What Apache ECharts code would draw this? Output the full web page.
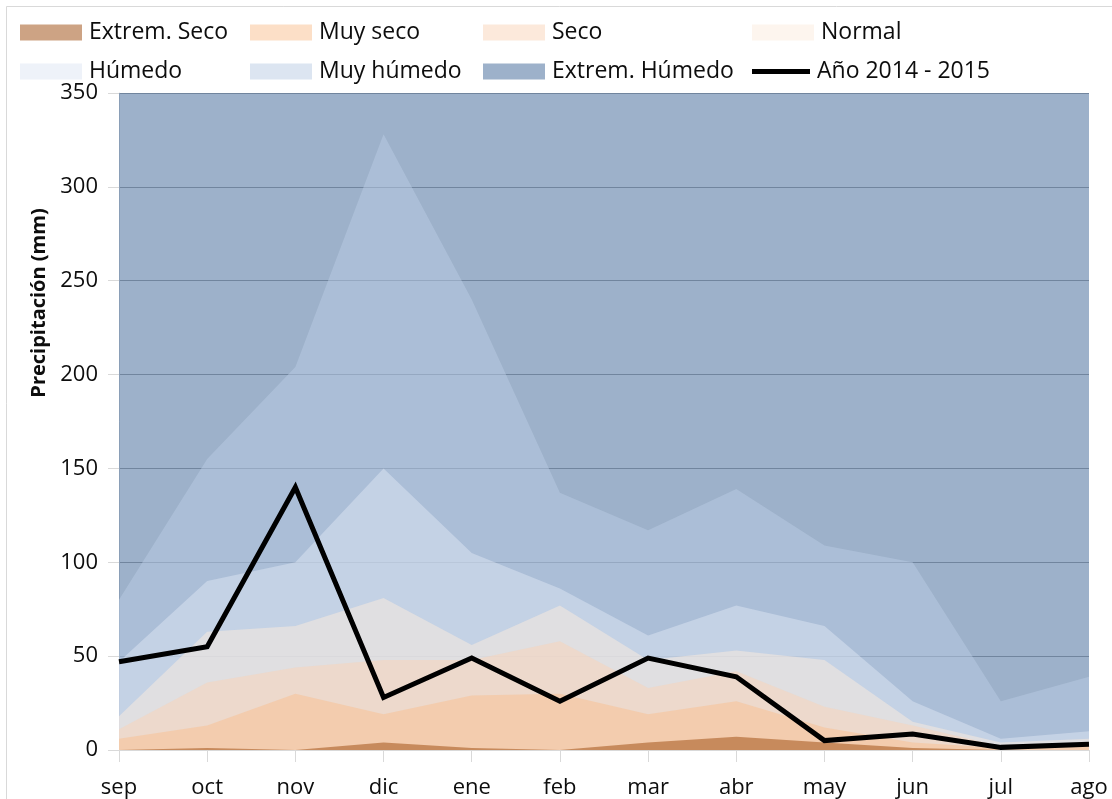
<!DOCTYPE html>
<html>
<head>
<meta charset="utf-8">
<script src="https://cdn.jsdelivr.net/npm/echarts@6/dist/echarts.min.js"></script>
<style>
html,body{margin:0;padding:0;background:#fff;}
#chart{width:1112px;height:799px;}
</style>
</head>
<body>
<div id="chart"></div>
<script>
const categories = ['sep','oct','nov','dic','ene','feb','mar','abr','may','jun','jul','ago'];
const extremSeco   = [0, 1, 0, 4, 1, 0, 4, 7, 4, 1, 0, 0];
const muySeco      = [6, 13, 30, 19, 29, 30, 19, 26, 12, 4, 1, 2];
const seco         = [11, 36, 44, 48, 48, 58, 33, 42, 23, 13, 2, 3];
const normal       = [18, 63, 66, 81, 56, 77, 48, 53, 48, 15, 4, 6];
const humedo       = [47, 90, 100, 150, 105, 86, 61, 77, 66, 26, 6, 10];
const muyHumedo    = [80, 155, 204, 328, 240, 137, 117, 139, 109, 100, 26, 39];
const extremHumedo = [350, 350, 350, 350, 350, 350, 350, 350, 350, 350, 350, 350];
const anio20142015 = [47, 55, 140, 28, 49, 26, 49, 39, 5, 8.5, 1.4, 3];
const seriesNames = ['Extrem. Seco','Muy seco','Seco','Normal','Húmedo','Muy húmedo','Extrem. Húmedo','Año 2014 - 2015'];
const yTicks = {min: 0, max: 350, interval: 50};

const FONT = '"Open Sans", sans-serif';
const TXT = '#0d0d0d';

// fill colours (semi-transparent, as in the original) and legend swatches
const areaDefs = [
  {name: seriesNames[6], data: extremHumedo, fill: 'rgba(59,99,149,0.5)',  swatch: '#9DB1CA'},
  {name: seriesNames[5], data: muyHumedo,    fill: 'rgba(185,203,227,0.5)', swatch: '#DCE5F1'},
  {name: seriesNames[4], data: humedo,       fill: 'rgba(221,229,243,0.5)', swatch: '#EEF2F9'},
  {name: seriesNames[3], data: normal,       fill: 'rgba(251,235,221,0.5)', swatch: '#FDF5EE'},
  {name: seriesNames[2], data: seco,         fill: 'rgba(249,211,183,0.5)', swatch: '#FCE9DB'},
  {name: seriesNames[1], data: muySeco,      fill: 'rgba(249,191,143,0.5)', swatch: '#FCDFC7'},
  {name: seriesNames[0], data: extremSeco,   fill: 'rgba(155,71,9,0.5)',    swatch: '#CDA384'}
];

const series = areaDefs.map(d => ({
  name: d.name,
  type: 'line',
  data: d.data,
  showSymbol: false,
  symbol: 'none',
  silent: true,
  lineStyle: {width: 0, color: d.fill},
  itemStyle: {color: d.swatch},
  areaStyle: {color: d.fill, opacity: 1, origin: 'start'}
}));
series.push({
  name: seriesNames[7],
  type: 'line',
  data: anio20142015,
  showSymbol: false,
  symbol: 'none',
  z: 10,
  lineStyle: {width: 5, color: '#000', join: 'miter'},
  itemStyle: {color: '#000'}
});

const swatchOf = {};
areaDefs.forEach(d => swatchOf[d.name] = d.swatch);
swatchOf[seriesNames[7]] = '#000';

// legend layout: two rows, four columns
const legendPos = [
  [20, 22], [250, 22], [483, 22], [752, 22],
  [20, 61], [250, 61], [483, 61], [752, 61]
];
const legends = seriesNames.map((n, i) => {
  const isLine = i === 7;
  return {
    left: legendPos[i][0],
    top: isLine ? legendPos[i][1] - 1 : legendPos[i][1] - 1,
    itemWidth: isLine ? 58 : 62,
    itemHeight: isLine ? 5 : 16,
    icon: 'rect',
    selectedMode: false,
    padding: 0,
    textStyle: {fontFamily: FONT, fontSize: 23, color: TXT, padding: [0, 0, 0, 2]},
    data: [{name: n, icon: 'rect', itemStyle: {color: swatchOf[n], borderWidth: 0}}]
  };
});

const chart = echarts.init(document.getElementById('chart'), null, {renderer: 'canvas'});
chart.setOption({
  animation: false,
  backgroundColor: '#fff',
  legend: legends,
  grid: {left: 119, right: 23, top: 93, bottom: 48, containLabel: false},
  xAxis: {
    type: 'category',
    data: categories,
    boundaryGap: false,
    axisLine: {show: true, lineStyle: {color: '#D9D9D9', width: 1}},
    axisTick: {show: true, length: 12, interval: 0, lineStyle: {color: '#D9D9D9'}},
    axisLabel: {interval: 0, margin: 27, fontFamily: FONT, fontSize: 22, color: TXT},
    splitLine: {show: false}
  },
  yAxis: {
    type: 'value',
    min: yTicks.min, max: yTicks.max, interval: yTicks.interval,
    axisLine: {show: true, lineStyle: {color: '#D9D9D9', width: 1}},
    axisTick: {show: true, length: 11, lineStyle: {color: '#D9D9D9'}},
    axisLabel: {margin: 21, fontFamily: FONT, fontSize: 22, color: TXT},
    splitLine: {show: true, lineStyle: {color: '#A6A6A6', width: 1}}
  },
  graphic: [
    {type: 'rect', silent: true, z: -10,
     shape: {x: 6.5, y: 6.5, width: 1200, height: 900},
     style: {fill: 'none', stroke: '#D9D9D9', lineWidth: 1}},
    {type: 'text', silent: true, x: 39, y: 303, rotation: Math.PI / 2,
     style: {text: 'Precipitación (mm)', font: 'bold 20px "Open Sans", sans-serif',
             fill: TXT, align: 'center', verticalAlign: 'middle'}}
  ],
  series: series
});
</script>
</body>
</html>
